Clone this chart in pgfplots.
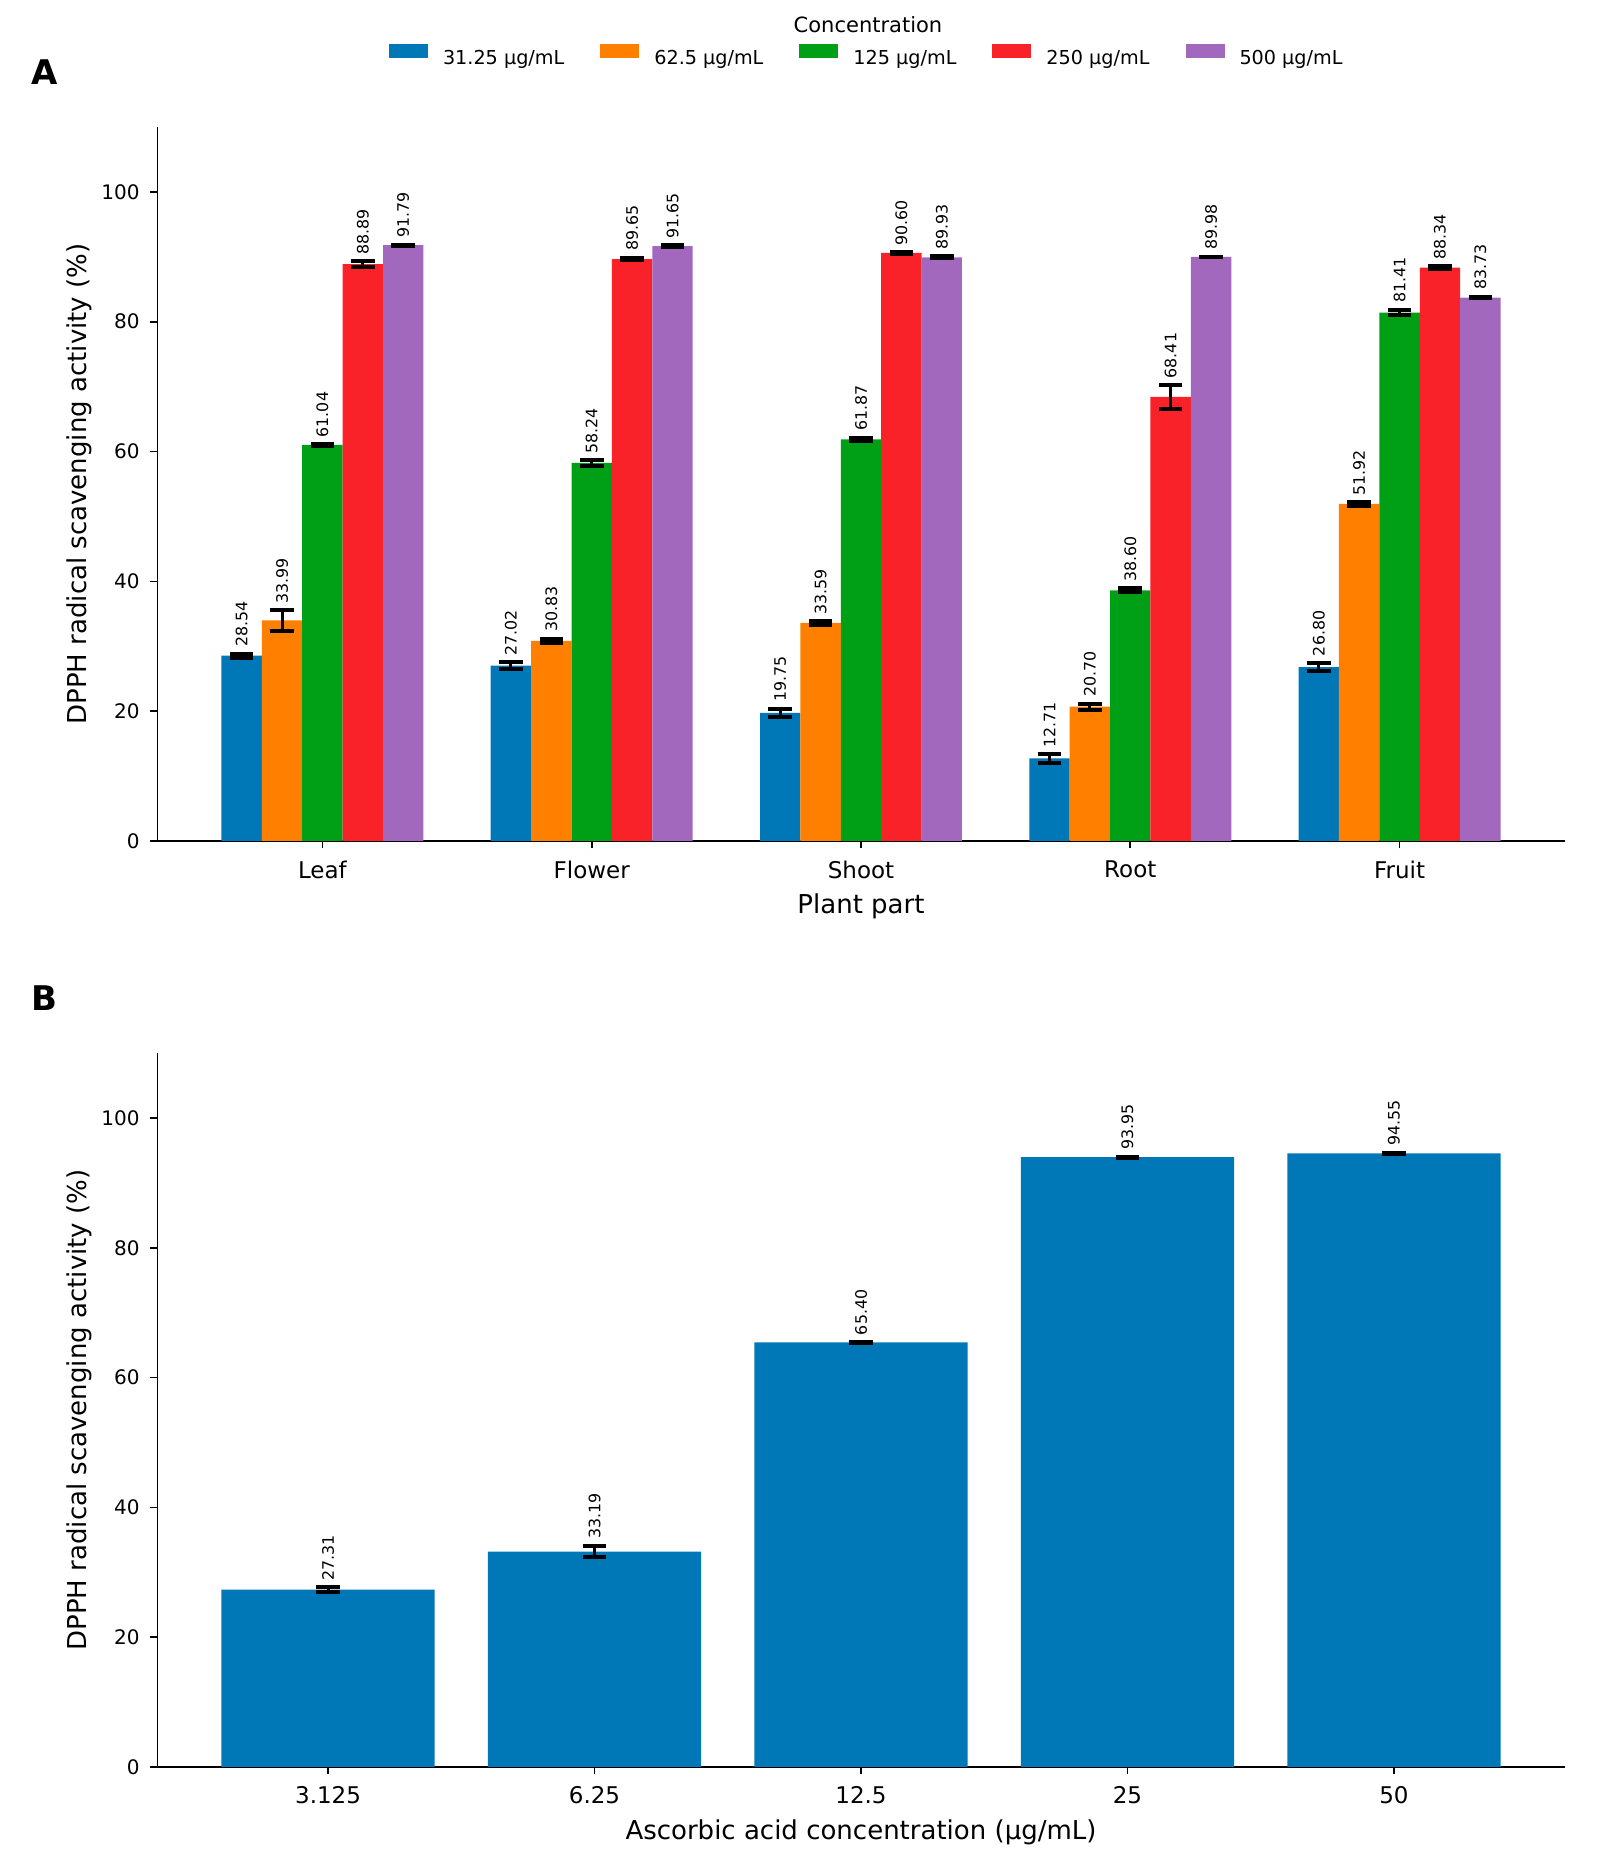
\documentclass[border=0pt]{standalone}
\usepackage{pgfplots}
\pgfplotsset{compat=1.18}
\usepackage{pgfplotstable}
\usepackage{fontspec}
\setmainfont{DejaVu Sans}

\definecolor{cA}{RGB}{0,119,183}
\definecolor{cB}{RGB}{255,127,0}
\definecolor{cC}{RGB}{0,160,22}
\definecolor{cD}{RGB}{248,34,40}
\definecolor{cE}{RGB}{162,104,190}

% Panel A data: x = plant part (0 Leaf,1 Flower,2 Shoot,3 Root,4 Fruit)
\pgfplotstableread{
x y err
0 28.54 0.30
1 27.02 0.55
2 19.75 0.65
3 12.71 0.65
4 26.80 0.65
}\tAa
\pgfplotstableread{
x y err
0 33.99 1.60
1 30.83 0.35
2 33.59 0.30
3 20.70 0.45
4 51.92 0.30
}\tAb
\pgfplotstableread{
x y err
0 61.04 0.13
1 58.24 0.40
2 61.87 0.25
3 38.60 0.30
4 81.41 0.45
}\tAc
\pgfplotstableread{
x y err
0 88.89 0.45
1 89.65 0.20
2 90.60 0.10
3 68.41 1.85
4 88.34 0.18
}\tAd
\pgfplotstableread{
x y err
0 91.79 0.10
1 91.65 0.10
2 89.93 0.15
3 89.98 0.05
4 83.73 0.15
}\tAe
% Panel B data
\pgfplotstableread{
x y err
0 27.31 0.38
1 33.19 0.90
2 65.40 0.10
3 93.95 0.08
4 94.55 0.08
}\tB

\pgfplotsset{
  myaxis/.style={
    scale only axis, width=703.5pt, height=357pt,
    ymin=0, ymax=110, ytick={0,20,40,60,80,100},
    axis lines=left, axis line style={-, line width=0.8pt, black},
    tick align=outside, major tick length=3.7pt,
    every tick/.style={black, line width=0.8pt},
    /pgf/number format/assume math mode=true,
    yticklabel style={font=\fontsize{10}{12}\selectfont, anchor=east, inner sep=0pt, xshift=-5.05pt},
    xticklabel style={font=\fontsize{11.5}{13}\selectfont, anchor=north, inner sep=0pt, yshift=-6.0pt},
    ylabel style={font=\fontsize{13}{15}\selectfont, at={(axis description cs:-0.0504,0.5)}, anchor=base, inner sep=0pt},
    xlabel style={font=\fontsize{13}{15}\selectfont, at={(axis description cs:0.5,-0.1017)}, anchor=base, inner sep=0pt},
    ylabel={DPPH radical scavenging activity (\%)},
    ybar,
    xtick={0,1,2,3,4},
    error bars/y dir=both, error bars/y explicit,
    error bars/error bar style={black, line width=1.5pt},
    error bars/error mark options={black, rotate=90, line width=2pt, mark size=5.9pt},
  },
  barplot/.style={fill=#1, draw=none},
  lblplot/.style={draw=none, fill=none, forget plot,
    error bars/y dir=none,
    point meta=explicit,
    nodes near coords={\pgfmathprintnumber[fixed, fixed zerofill, precision=2]{\pgfplotspointmeta}},
    nodes near coords style={rotate=90, anchor=west, inner ysep=0pt, inner xsep=3.2pt,
      font=\fontsize{7.9}{9}\selectfont, text=black},
  },
}

\begin{document}
\begin{tikzpicture}
\useasboundingbox (0,0) rectangle (799.5pt,937.5pt);

% Panel A
\begin{axis}[myaxis,
  at={(78.75pt,517pt)}, anchor=south west,
  xmin=-0.6125, xmax=4.6125,
  bar width=0.15,
  xticklabels={Leaf,Flower,Shoot,Root,Fruit},
  xlabel={Plant part},
  legend columns=5,
  legend image code/.code={\fill[#1, draw=none] (0pt,0pt) rectangle (19.5pt,7pt);},
  legend style={at={(axis description cs:0.16453,1.0960)}, anchor=base west,
    draw=none, fill=none, inner sep=0pt, outer sep=0pt,
    font=\fontsize{9.6}{11}\selectfont,
    nodes={inner sep=0pt},
    /tikz/every odd column/.append style={column sep=7.5pt},
    /tikz/every even column/.append style={column sep=18pt}},
]
\addplot[barplot=cA, bar shift=-0.3] table[x=x, y=y, y error=err] {\tAa};
\addlegendentry{31.25 µg/mL}
\addplot[barplot=cB, bar shift=-0.15] table[x=x, y=y, y error=err] {\tAb};
\addlegendentry{62.5 µg/mL}
\addplot[barplot=cC, bar shift=0] table[x=x, y=y, y error=err] {\tAc};
\addlegendentry{125 µg/mL}
\addplot[barplot=cD, bar shift=0.15] table[x=x, y=y, y error=err] {\tAd};
\addlegendentry{250 µg/mL}
\addplot[barplot=cE, bar shift=0.3] table[x=x, y=y, y error=err] {\tAe};
\addlegendentry{500 µg/mL}

\addplot[lblplot, bar shift=-0.3] table[x=x, y expr=\thisrow{y}+\thisrow{err}, meta=y] {\tAa};
\addplot[lblplot, bar shift=-0.15] table[x=x, y expr=\thisrow{y}+\thisrow{err}, meta=y] {\tAb};
\addplot[lblplot, bar shift=0] table[x=x, y expr=\thisrow{y}+\thisrow{err}, meta=y] {\tAc};
\addplot[lblplot, bar shift=0.15] table[x=x, y expr=\thisrow{y}+\thisrow{err}, meta=y] {\tAd};
\addplot[lblplot, bar shift=0.3] table[x=x, y expr=\thisrow{y}+\thisrow{err}, meta=y] {\tAe};
\end{axis}

% Panel B
\begin{axis}[myaxis,
  at={(78.75pt,54pt)}, anchor=south west,
  xmin=-0.64, xmax=4.64,
  bar width=0.8,
  xticklabels={3.125,6.25,12.5,25,50},
  xlabel={Ascorbic acid concentration (µg/mL)},
]
\addplot[barplot=cA, bar shift=0] table[x=x, y=y, y error=err] {\tB};
\addplot[lblplot, bar shift=0] table[x=x, y expr=\thisrow{y}+\thisrow{err}, meta=y] {\tB};
\end{axis}

\node[anchor=base, inner sep=0pt, font=\fontsize{10.5}{12}\selectfont] at (434pt,921.3pt) {Concentration};
\node[anchor=base west, inner sep=0pt, font=\bfseries\fontsize{17}{20}\selectfont] at (15.5pt,895pt) {A};
\node[anchor=base west, inner sep=0pt, font=\bfseries\fontsize{17}{20}\selectfont] at (15.5pt,432pt) {B};
\end{tikzpicture}
\end{document}
